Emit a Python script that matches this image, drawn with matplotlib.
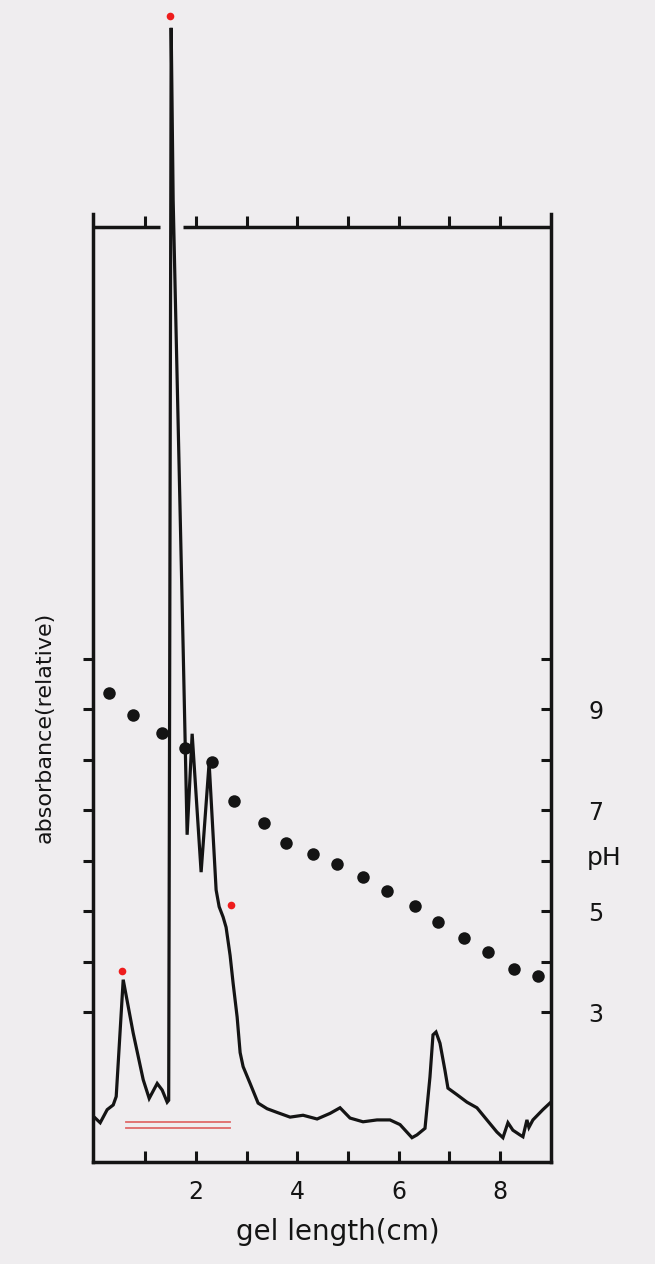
import matplotlib
matplotlib.use("Agg")
import matplotlib.pyplot as plt

# absorbance trace (relative units) along the gel
gel_cm = [0.014, 0.112, 0.250, 0.369, 0.428, 0.566, 0.763, 0.961, 1.079, 1.237,
          1.335, 1.434, 1.464, 1.513, 1.552, 1.750, 1.828, 1.927, 2.104, 2.262,
          2.400, 2.460, 2.538, 2.597, 2.676, 2.736, 2.815, 2.874, 2.933, 3.071,
          3.229, 3.406, 3.604, 3.860, 4.116, 4.393, 4.649, 4.846, 5.043, 5.300,
          5.576, 5.832, 6.030, 6.266, 6.365, 6.523, 6.621, 6.681, 6.740, 6.819,
          6.917, 6.976, 7.154, 7.351, 7.548, 7.745, 7.943, 8.061, 8.160, 8.258,
          8.396, 8.456, 8.535, 8.574, 8.653, 8.850, 8.988]
absorb = [0.047, 0.042, 0.056, 0.061, 0.070, 0.195, 0.138, 0.088, 0.068, 0.084,
          0.077, 0.064, 0.066, 1.213, 1.029, 0.548, 0.350, 0.458, 0.310, 0.427,
          0.291, 0.273, 0.262, 0.251, 0.221, 0.191, 0.155, 0.117, 0.102, 0.084,
          0.063, 0.057, 0.053, 0.048, 0.050, 0.046, 0.052, 0.058, 0.047, 0.043,
          0.045, 0.045, 0.040, 0.026, 0.029, 0.036, 0.091, 0.136, 0.139, 0.127,
          0.098, 0.079, 0.072, 0.064, 0.058, 0.045, 0.032, 0.026, 0.042, 0.034,
          0.029, 0.027, 0.045, 0.037, 0.045, 0.056, 0.063]

# pH gradient measured along the gel
ph_cm = [0.290, 0.763, 1.335, 1.789, 2.321, 2.755, 3.347, 3.781, 4.314, 4.787,
         5.300, 5.773, 6.325, 6.779, 7.292, 7.765, 8.278, 8.750]
ph_val = [9.32, 8.89, 8.53, 8.23, 7.96, 7.19, 6.75, 6.36, 6.14, 5.94,
          5.69, 5.41, 5.11, 4.80, 4.48, 4.19, 3.87, 3.73]

# red marks on peaks and the double red bar
peak_cm = [0.546, 1.497, 2.696]
peak_abs = [0.204, 1.226, 0.275]
band_cm = [0.63, 2.68]
band_abs = [0.043, 0.036]

x_ticks = [1, 2, 3, 4, 5, 6, 7, 8]
x_labels = ["", "2", "", "4", "", "6", "", "8"]
ph_ticks = [3, 4, 5, 6, 7, 8, 9, 10]
ph_labels = ["3", "", "5", "", "7", "", "9", ""]

ph_lo, ph_hi = 0.04, 18.55
bg = "#efedef"
ink = "#141414"

fig = plt.figure(figsize=(6.55, 12.64), dpi=100, facecolor=bg)
ax = fig.add_axes([93 / 655, 1 - 1162 / 1264, 458 / 655, 935 / 1264])
ax.set_facecolor(bg)
ax.set_xlim(-0.03, 9.01)
ax.set_ylim(0, 1)

ax.plot(gel_cm, absorb, color=ink, lw=2.3, clip_on=False, zorder=3,
        solid_joinstyle="miter")

for a in band_abs:
    ax.plot(band_cm, [a, a], color="#e06a6a", lw=1.3, zorder=2)
ax.plot(peak_cm, peak_abs, "o", color="#ee1c1c", ms=5.5, mec="none",
        clip_on=False, zorder=4)

ax2 = ax.twinx()
ax2.set_ylim(ph_lo, ph_hi)
ax2.plot(ph_cm, ph_val, "o", color=ink, ms=9, mec="none", zorder=5)
ax2.set_yticks(ph_ticks, labels=ph_labels)
ax2.tick_params(axis="y", direction="in", length=7, width=2.2, pad=27,
                labelsize=17, colors=ink)
for s in ax2.spines.values():
    s.set_visible(False)

# spines: vertical ones overshoot the top line, top line has a gap for the peak
ax.spines["top"].set_visible(False)
for side in ["left", "right"]:
    ax.spines[side].set_bounds(0, 1.014)
for side in ["left", "right", "bottom"]:
    ax.spines[side].set_linewidth(2.5)
    ax.spines[side].set_color(ink)
for seg in [(-0.03, 1.30), (1.75, 9.01)]:
    ax.plot(seg, [1, 1], color=ink, lw=2.5, transform=ax.get_xaxis_transform(),
            clip_on=False, solid_capstyle="butt")

ax.set_xticks(x_ticks, labels=x_labels)
ax.tick_params(axis="x", direction="in", length=8, width=2.2, pad=13,
               labelsize=17, colors=ink)
ax.set_yticks([(p - ph_lo) / (ph_hi - ph_lo) for p in ph_ticks], labels=[])
ax.tick_params(axis="y", direction="out", length=7, width=2.2, colors=ink,
               right=False)

top = ax.secondary_xaxis("top")
top.set_xticks(x_ticks, labels=[""] * len(x_ticks))
top.tick_params(direction="out", length=8, width=2.2, colors=ink)
for s in top.spines.values():
    s.set_visible(False)

fig.text(338 / 655, 1 - 1232 / 1264, "gel length(cm)", fontsize=20,
         ha="center", va="center", color=ink)
fig.text(45 / 655, 1 - 727 / 1264, "absorbance(relative)", fontsize=16,
         rotation=90, ha="center", va="center", color=ink)
fig.text(604 / 655, 1 - 858 / 1264, "pH", fontsize=18, ha="center",
         va="center", color=ink)

fig.savefig("out.png", dpi=100, facecolor=bg)
